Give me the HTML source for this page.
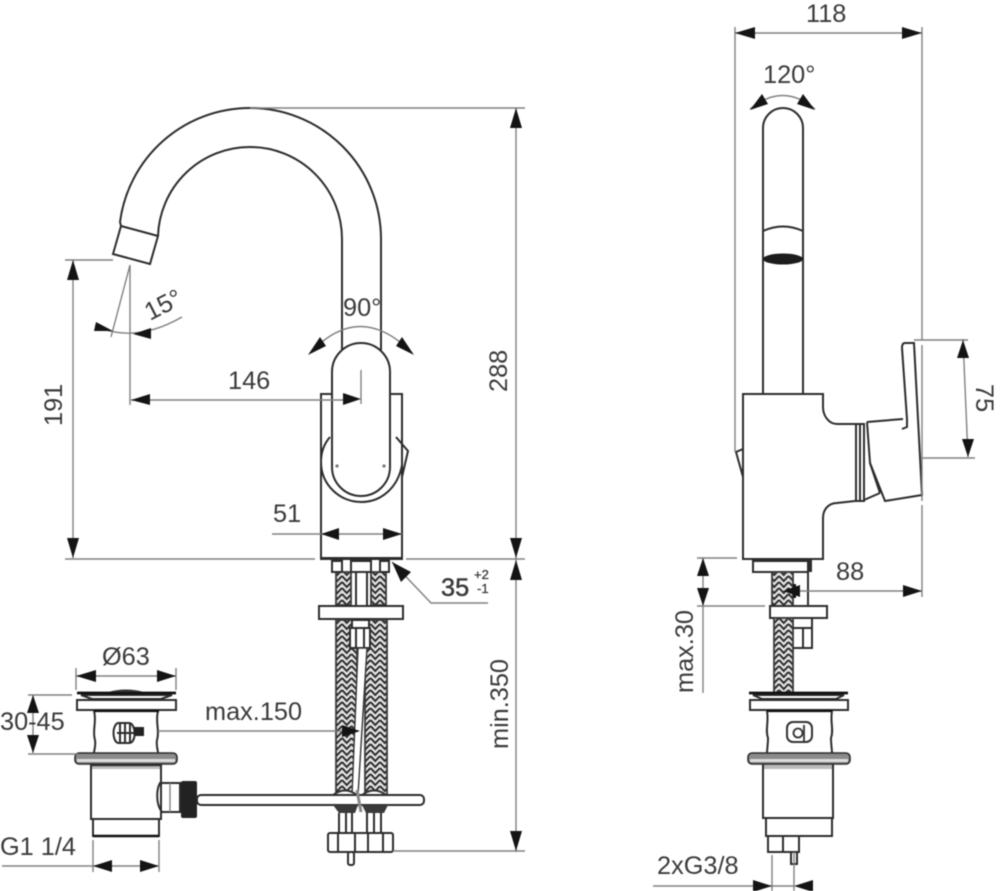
<!DOCTYPE html>
<html><head><meta charset="utf-8">
<style>
html,body{margin:0;padding:0;background:#fff;width:1000px;height:891px;overflow:hidden}
svg{display:block;filter:blur(0.45px)}
text{font-family:"Liberation Sans",sans-serif;font-size:25.3px;fill:#3a3a3a}
.o{fill:none;stroke:#2c2c2c;stroke-width:2}
.w{fill:#fff;stroke:#2c2c2c;stroke-width:2}
.d{fill:none;stroke:#808080;stroke-width:1.4}
.a{fill:#141414;stroke:none}
.h{fill:url(#hatch);stroke:#3a3a3a;stroke-width:1.8}
</style></head><body>
<svg width="1000" height="891" viewBox="0 0 1000 891" xmlns="http://www.w3.org/2000/svg">
<defs>
<pattern id="hatch" width="9.5" height="6" patternUnits="userSpaceOnUse">
<rect width="9.5" height="6" fill="#e2e2e2"/>
<path d="M0 0L4.75 5L9.5 0M0 -6L4.75 -1L9.5 -6M0 6L4.75 11L9.5 6" fill="none" stroke="#2a2a2a" stroke-width="1.9"/>
</pattern>
</defs>

<!-- LEFT VIEW: spout -->
<path class="o" d="M381 350V239A131 131 0 0 0 250 108A131 131 0 0 0 120 222L121 226"/>
<path class="o" d="M342 350V239A92 92 0 0 0 250 147A92 92 0 0 0 158 236"/>
<path class="o" d="M121 226L113 254L150 264L158 236Z"/>

<!-- body -->
<path class="o" d="M332 394H321V559H402V394H390"/>
<rect x="321" y="557" width="81" height="3" fill="#2c2c2c"/>
<path class="o" d="M330 437C323 445 321 453 321 462C321 485 340 502 361 502C382 502 398 487 402 465M396 437L408 451L402 477"/>
<path class="w" stroke-width="2.4" d="M332 372A29 29 0 0 1 390 372V467A29 29 0 0 1 332 467Z"/>
<path class="d" d="M361 370V404"/>
<circle cx="337" cy="466" r="1.6" fill="#777"/><circle cx="384" cy="466" r="1.6" fill="#777"/>

<!-- connectors under body -->
<rect class="h" x="336" y="572" width="15" height="33"/>
<rect class="h" x="371" y="572" width="15" height="33"/>
<path class="o" d="M356 572V605M367 572V605" stroke-width="1.6"/>
<rect class="w" x="332" y="561" width="10" height="11" stroke-width="1.6"/>
<rect class="w" x="351" y="561" width="20" height="11" stroke-width="1.6"/>
<rect class="w" x="380" y="561" width="9" height="11" stroke-width="1.6"/>
<rect class="w" x="319" y="606" width="84" height="13"/>
<rect class="h" x="336" y="620" width="21" height="175"/>
<rect class="h" x="365" y="620" width="22" height="175"/>
<rect class="w" x="352" y="620" width="17" height="8" stroke-width="1.4"/>
<rect class="w" x="350" y="628" width="20" height="20" stroke-width="1.8"/>
<path class="o" d="M356 628V648M364 628V648" stroke-width="1.2"/>
<path d="M358 648L352 795H358L367 648Z" fill="#fff" stroke="#333" stroke-width="1.4"/>
<!-- rod and nut -->
<path d="M333 795Q345 786 357 795ZM362 795Q374 786 386 795Z" fill="#fff" stroke="#333" stroke-width="2"/>
<rect class="w" x="197" y="795" width="227" height="10" rx="4" stroke-width="1.8"/>
<path d="M357 790L361 812" stroke="#888" stroke-width="3" fill="none"/>
<path d="M333 805L339 813H355L358 805ZM362 805L366 813H384L388 805Z" fill="#3a3a3a"/>
<path class="o" d="M339 813V832M346 813V832M352 813V832M367 813V832M374 813V832M381 813V832" stroke-width="2.2"/>
<rect class="w" x="328" y="833" width="65" height="19" rx="2"/>
<path class="o" d="M338 833V852M355 833V852M368 833V852M383 833V852" stroke-width="1.5"/>
<rect class="w" x="348" y="852" width="6" height="13" rx="2" stroke-width="1.5"/>

<!-- LEFT waste -->
<path class="o" d="M81 695H172L161 699H92Z" stroke-width="1.6"/>
<path d="M77 693H176" stroke="#111" stroke-width="2.8"/>
<path d="M108 692Q126 687 144 692Z" fill="#333"/>
<rect class="w" x="77" y="700" width="99" height="10"/>
<path class="o" d="M94 711C97 722 92 730 95 740C96 746 94 750 94 753M158 711C155 722 160 730 157 740C156 746 158 750 158 753"/>
<path d="M94 711H159" stroke="#111" stroke-width="2.2"/>
<rect x="91" y="764" width="70" height="5" fill="#bbb"/>
<rect x="75" y="753" width="102" height="11" rx="4" fill="#8b8b8b" stroke="#2c2c2c" stroke-width="1.6"/>
<rect x="77" y="759" width="98" height="3" fill="#ddd"/>
<path class="o" d="M91 764V819H161V764" stroke="#666"/>
<path d="M91 765H161" stroke="#2c2c2c" stroke-width="2.2"/>
<path class="o" d="M93 819V836H159V819"/>
<path d="M93 836H159" stroke="#111" stroke-width="2.4"/>
<path class="o" d="M160 783H180V812H162C156 805 156 790 160 783Z"/>
<path class="d" d="M170 783V812"/>
<rect x="181" y="781" width="16" height="37" rx="2" fill="#222"/>
<!-- knob -->
<path class="w" d="M118 723H129C136 723 137 743 129 743H118C112 741 112 725 118 723Z" stroke-width="2.4"/>
<path class="o" d="M120 723V743M125 723V743M130 723V743M117 733H136" stroke-width="1.6"/>
<rect x="134" y="727" width="10" height="9" fill="#222"/>

<!-- LEFT dimensions -->
<g class="d">
<path d="M250 108H525M516 108V852M406 559H525M393 851H525"/>
<path d="M65 260H113M73 260V558M65 559H315"/>
<path d="M130 265V405M130 265L111 337"/>
<path d="M95 326Q135 344 182 317"/>
<path d="M310 353Q360 300 412 353"/>
<path d="M131 400H355M272 534H402"/>
<path d="M392 562L431 603H488"/>
<path d="M76 668V690M176 668V690M76 676H176"/>
<path d="M28 695H72M28 754H78M33 695V753"/>
<path d="M158 731H358"/>
<path d="M2 866H158M93 840V872M159 840V872"/>
</g>
<g class="a">
<polygon points="516,108 510,128 522,128"/><polygon points="516,558 510,538 522,538"/>
<polygon points="516,560 510,580 522,580"/><polygon points="516,851 510,831 522,831"/>
<polygon points="73,260 67,280 79,280"/><polygon points="73,558 67,538 79,538"/>
<polygon points="113,331 96,322 94,331"/><polygon points="133,334 151,328 151,339"/>
<polygon points="308,355 320,337 326,346"/><polygon points="414,355 396,346 402,337"/>
<polygon points="131,400 150,394 150,405"/><polygon points="361,399 343,393 343,405"/>
<polygon points="321,534 339,528 339,540"/><polygon points="402,534 383,528 383,540"/>
<polygon points="392,562 411,572 401,582"/>
<polygon points="76,676 96,670 96,682"/><polygon points="176,676 157,670 157,682"/>
<polygon points="33,695 27,713 39,713"/><polygon points="33,753 27,735 39,735"/>
<polygon points="360,731 342,725 342,737"/>
<polygon points="93,866 112,860 112,872"/><polygon points="159,866 140,860 140,872"/>
</g>
<text x="228" y="389">146</text>
<text x="343" y="316">90°</text>
<text transform="translate(150,321) rotate(-27)">15°</text>
<text x="273" y="522">51</text>
<text x="441" y="596" style="stroke:#3a3a3a;stroke-width:.5">35</text>
<text x="474" y="579" style="font-size:13px;stroke:#3a3a3a;stroke-width:.3">+2</text>
<text x="477" y="593" style="font-size:13px;stroke:#3a3a3a;stroke-width:.3">-1</text>
<text transform="translate(507,392) rotate(-90)">288</text>
<text transform="translate(508,749) rotate(-90)">min.350</text>
<text transform="translate(62,426) rotate(-90)">191</text>
<text x="102" y="665">Ø63</text>
<text x="0" y="730">30-45</text>
<text x="205" y="720">max.150</text>
<text x="0" y="855">G1 1/4</text>

<!-- RIGHT VIEW -->
<path class="o" d="M763 393V128A20 20 0 0 1 803 128V393"/>
<path class="o" d="M763 231Q783 222 803 231" stroke-width="2.4"/>
<ellipse cx="783" cy="259" rx="20" ry="5.5" fill="#1c1c1c"/>
<path class="o" stroke-width="2.2" d="M855 424H837C829 424 823 416 823 407V394H743V559H823V518C823 509 829 503 837 503L855 501"/>
<path class="o" d="M743 449L736 452L743 477" stroke-width="1.6"/>
<rect class="w" x="856" y="424" width="8" height="77" stroke-width="2"/>
<path class="o" d="M860 424V500" stroke="#777"/>
<path class="o" d="M867 422L903 419M867 422L870 463L885 501L922 495L914 343H905Q902 343 902 348L907 419V427L902 429"/>
<path class="o" d="M864 500L880 493M870 463L880 493" stroke-width="1.4"/>

<rect class="w" x="753" y="561" width="55" height="11" stroke-width="1.6"/>
<rect x="808" y="560" width="4" height="12" fill="#2c2c2c"/>
<rect class="h" x="772" y="572" width="21" height="34"/>
<path class="o" d="M808 572V606" stroke-width="1.6"/>
<rect class="w" x="770" y="606" width="57" height="12"/>
<rect class="h" x="774" y="618" width="19" height="75"/>
<path class="o" d="M793 618H812V648H793M803 628V648M793 628H812" stroke-width="1.6"/>
<!-- right waste -->
<path class="o" d="M753 695H844L836 699H762Z" stroke-width="1.6"/>
<path d="M749 693H848" stroke="#111" stroke-width="2.8"/>
<rect class="w" x="750" y="700" width="98" height="10"/>
<path class="o" d="M767 711C769 722 765 730 768 738C768 744 767 750 767 753M832 711C830 722 834 730 831 738C831 744 832 750 832 753"/>
<path d="M767 711H832" stroke="#111" stroke-width="2.2"/>
<rect x="787" y="722" width="25" height="20" rx="6" fill="#fff" stroke="#333" stroke-width="2"/>
<circle cx="798" cy="733" r="4.5" fill="none" stroke="#333" stroke-width="1.8"/>
<path d="M804 725V741" stroke="#333" stroke-width="1.8"/>
<rect x="763" y="764" width="70" height="5" fill="#bbb"/>
<rect x="748" y="753" width="102" height="11" rx="4" fill="#8b8b8b" stroke="#2c2c2c" stroke-width="1.6"/>
<rect x="750" y="759" width="98" height="3" fill="#ddd"/>
<path class="o" d="M763 764V818H833V764" stroke="#555"/>
<path class="o" d="M766 818V836H832V818"/>
<path class="o" d="M768 836V852H799V836M783 836V852" stroke-width="1.8"/>
<rect class="w" x="791" y="852" width="6" height="12" stroke-width="1.5"/>

<!-- RIGHT dimensions -->
<g class="d">
<path d="M735 27V452M922 27V340M922 345V501M922 505V597M735 33H922"/>
<path d="M750 109Q783 82 815 109"/>
<path d="M914 340H968M963 339L968 457M922 458H975"/>
<path d="M785 591H922"/>
<path d="M697 558H737M697 606H765M703 558V693"/>
<path d="M653 886H772M772 855V891M794 852V891M772 886H794"/>
</g>
<g class="a">
<polygon points="735,33 755,27 755,39"/><polygon points="922,33 902,27 902,39"/>
<polygon points="750,110 762,94 768,104"/><polygon points="815,110 797,104 803,94"/>
<polygon points="963,340 957,358 969,358"/><polygon points="968,457 962,439 974,439"/>
<polygon points="922,591 903,585 903,597"/>
<polygon points="783,591 800,585 800,597"/><rect x="793" y="584" width="3" height="14"/>
<polygon points="703,558 697,576 709,576"/><polygon points="703,606 697,588 709,588"/>
<polygon points="772,886 753,880 753,892"/><polygon points="794,886 813,880 813,892"/>
</g>
<text x="806" y="22">118</text>
<text x="763" y="83">120°</text>
<text x="836" y="580">88</text>
<text transform="translate(976,384) rotate(90)">75</text>
<text transform="translate(693,693) rotate(-90)">max.30</text>
<text x="657" y="874">2xG3/8</text>
</svg>
</body></html>
